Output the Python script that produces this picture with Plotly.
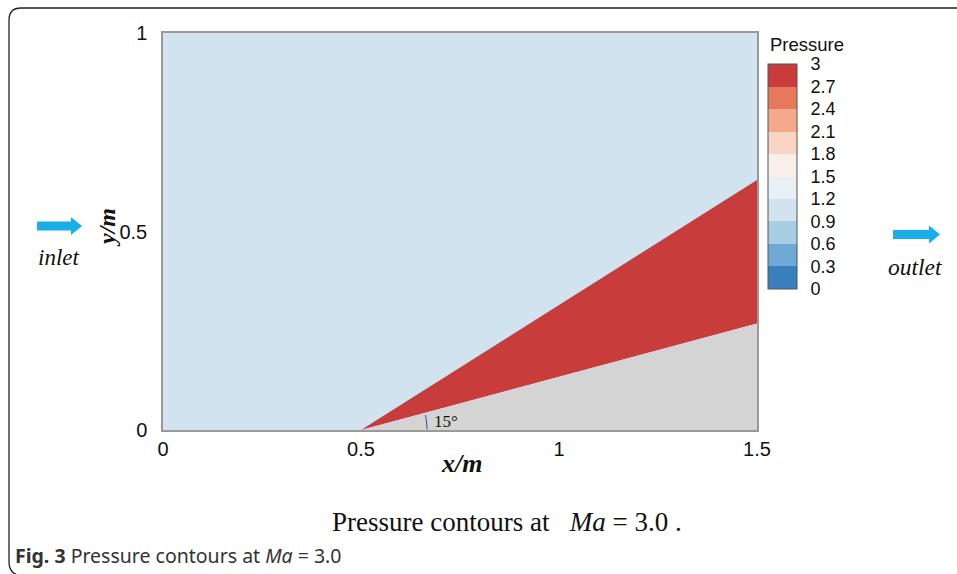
import numpy as np
import plotly.graph_objects as go

# ---- data -------------------------------------------------------------
# contour levels of the colour bar and the colour of each band
levels = [0.0, 0.3, 0.6, 0.9, 1.2, 1.5, 1.8, 2.1, 2.4, 2.7, 3.0]
level_labels = ["0", "0.3", "0.6", "0.9", "1.2", "1.5", "1.8", "2.1", "2.4", "2.7", "3"]
band_colors = ["#3a7fbd", "#6eaad3", "#a7cee4", "#d0e3ef", "#e8eff5",
               "#f8eeea", "#fbd5c3", "#f5a98a", "#e6785b", "#c83c3c"]

# flow field: free stream ahead of the oblique shock, shock layer behind it
free_stream_pressure = 1.0
shock_layer_pressure = 2.82
wedge_tip_x = 0.5
domain_x = [0.0, 1.5]
domain_y = [0.0, 1.0]
wedge_angle_deg = 15.0
shock_angle_deg = 32.2

PLOT_L, PLOT_R, PLOT_T, PLOT_B = 163, 757, 33, 430
W, H = 957, 574


def band_color(p):
    for k in range(len(band_colors)):
        if levels[k] <= p < levels[k + 1]:
            return band_colors[k]
    return band_colors[-1]


def px(x):
    return (x - PLOT_L) / (PLOT_R - PLOT_L)


def py(y):
    return (PLOT_B - y) / (PLOT_B - PLOT_T)


run = domain_x[1] - wedge_tip_x
y_wedge_end = run * np.tan(np.radians(wedge_angle_deg))
y_shock_end = run * np.tan(np.radians(shock_angle_deg))

fig = go.Figure()

# free stream region (whole domain)
fig.add_trace(go.Scatter(
    x=[domain_x[0], domain_x[1], domain_x[1], domain_x[0], domain_x[0]],
    y=[domain_y[0], domain_y[0], domain_y[1], domain_y[1], domain_y[0]],
    fill="toself", fillcolor=band_color(free_stream_pressure),
    mode="none", hoverinfo="skip", showlegend=False))

# shock layer between the shock and the wedge surface
fig.add_trace(go.Scatter(
    x=[wedge_tip_x, domain_x[1], domain_x[1], wedge_tip_x],
    y=[0.0, y_wedge_end, y_shock_end, 0.0],
    fill="toself", fillcolor=band_color(shock_layer_pressure),
    mode="none", hoverinfo="skip", showlegend=False))

# the solid wedge
fig.add_trace(go.Scatter(
    x=[wedge_tip_x, domain_x[1], domain_x[1], wedge_tip_x],
    y=[0.0, 0.0, y_wedge_end, 0.0],
    fill="toself", fillcolor="#d4d4d4",
    mode="none", hoverinfo="skip", showlegend=False))

# angle marker on the wedge
theta = np.radians(np.linspace(0.5, 13.0, 30))
r_arc = 0.167
fig.add_trace(go.Scatter(
    x=wedge_tip_x + r_arc * np.cos(theta), y=r_arc * np.sin(theta),
    mode="lines", line=dict(color="#3050b0", width=1),
    hoverinfo="skip", showlegend=False))

# stepped colour scale for the colour bar
cscale = []
n = len(band_colors)
for k, c in enumerate(band_colors):
    cscale.append([k / n, c])
    cscale.append([(k + 1) / n, c])

sans = "Liberation Sans, Arial, sans-serif"
cb_top, cb_bot, cb_left, cb_right = 64, 289, 768, 797
fig.add_trace(go.Heatmap(
    x=[5, 6], y=[5], z=[[levels[0], levels[-1]]],
    zmin=levels[0], zmax=levels[-1], colorscale=cscale, hoverinfo="skip",
    colorbar=dict(
        x=px(cb_left), xanchor="left", xpad=0,
        y=py((cb_top + cb_bot) / 2), yanchor="middle", ypad=0,
        len=(cb_bot - cb_top) / (PLOT_B - PLOT_T), lenmode="fraction",
        thickness=cb_right - cb_left, thicknessmode="pixels",
        outlinewidth=1, outlinecolor="#555555",
        tickmode="array", tickvals=levels, ticktext=level_labels,
        ticks="outside", ticklen=10, tickcolor="rgba(0,0,0,0)",
        tickfont=dict(family=sans, size=18, color="#111"),
    )))

shapes = []
# band separators in the colour bar
for lv in levels[1:-1]:
    ypix = cb_bot - (lv - levels[0]) / (levels[-1] - levels[0]) * (cb_bot - cb_top)
    shapes.append(dict(type="line", xref="paper", yref="paper",
                       x0=px(cb_left), x1=px(cb_right), y0=py(ypix), y1=py(ypix),
                       line=dict(color="#555555", width=1)))


def arrow(x0, x1, xh, yc, half_shaft, half_head):
    pts = [(x0, yc - half_shaft), (xh, yc - half_shaft), (xh, yc - half_head),
           (x1, yc), (xh, yc + half_head), (xh, yc + half_shaft), (x0, yc + half_shaft)]
    path = "M " + " L ".join(f"{px(a):.5f},{py(b):.5f}" for a, b in pts) + " Z"
    return dict(type="path", xref="paper", yref="paper", path=path,
                fillcolor="#19aee6", line=dict(width=0))


shapes.append(arrow(37, 82, 71, 226, 4.5, 9))
shapes.append(arrow(893, 940, 929, 234.5, 4.5, 9))

# rounded frame around the figure
fx0, fy0, rad = 9, 8, 12
frame = (f"M {px(W + 5):.5f},{py(fy0):.5f} L {px(fx0 + rad):.5f},{py(fy0):.5f} "
         f"Q {px(fx0):.5f},{py(fy0):.5f} {px(fx0):.5f},{py(fy0 + rad):.5f} "
         f"L {px(fx0):.5f},{py(562):.5f} "
         f"Q {px(fx0):.5f},{py(574):.5f} {px(fx0 + rad):.5f},{py(576):.5f}")
shapes.append(dict(type="path", xref="paper", yref="paper", path=frame,
                   line=dict(color="#222222", width=1.3)))

serif = "Liberation Serif, Times New Roman, serif"


def label(text, xpix, ypix, size, family=serif, xanchor="center", angle=0, color="#111"):
    return dict(text=text, x=px(xpix), y=py(ypix), xref="paper", yref="paper",
                xanchor=xanchor, yanchor="middle", showarrow=False, textangle=angle,
                font=dict(family=family, size=size, color=color))


annotations = [
    label("Pressure", 768, 45, 18.5, family=sans, xanchor="left"),
    label("<b><i>x/m</i></b>", 461, 463, 26),
    label("<b><i>y/m</i></b>", 107, 228, 24, angle=-90),
    label("<i>inlet</i>", 58, 257, 23),
    label("<i>outlet</i>", 915, 267, 23.5),
    label("15°", 432, 421, 17, xanchor="left"),
    label("Pressure contours at   <i>Ma</i> = 3.0 .", 507, 522, 27),
    label("<b>Fig. 3</b> Pressure contours at <i>Ma</i> = 3.0", 13, 555, 19.5,
          family="Noto Sans, Open Sans, sans-serif", xanchor="left", color="#333"),
]

axis_font = dict(family=sans, size=20, color="#111")
fig.update_layout(
    width=W, height=H,
    margin=dict(l=PLOT_L, r=W - PLOT_R, t=PLOT_T, b=H - PLOT_B, pad=0),
    paper_bgcolor="white", plot_bgcolor="white",
    shapes=shapes, annotations=annotations,
    xaxis=dict(range=domain_x, tickvals=[0, 0.5, 1, 1.5], ticktext=["0", "0.5", "1", "1.5"],
               showgrid=False, zeroline=False, showline=True, linecolor="#999999",
               linewidth=1.5, mirror=True, ticks="", tickfont=axis_font),
    yaxis=dict(range=domain_y, tickvals=[0, 0.5, 1], ticktext=["0", "0.5", "1"],
               showgrid=False, zeroline=False, showline=True, linecolor="#999999",
               linewidth=1.5, mirror=True, ticks="", tickfont=axis_font,
               ticklabelstandoff=10),
)

fig.write_html("out.html")
